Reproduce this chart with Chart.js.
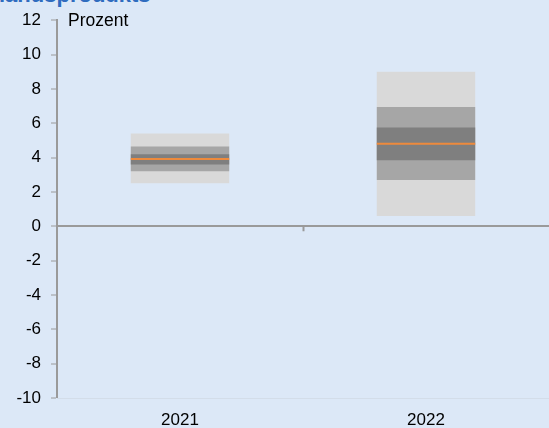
<!DOCTYPE html>
<html>
<head>
<meta charset="utf-8">
<script src="https://cdn.jsdelivr.net/npm/chart.js@4"></script>
<style>
  html, body { margin: 0; padding: 0; background: #dce8f7; overflow: hidden; }
  #wrap { position: relative; width: 549px; height: 428px; }
  #head {
    position: absolute; left: -1px; top: -18px;
    font: bold 22px "Liberation Sans", Arial, sans-serif; color: #2f6cbf;
  }
  canvas { position: absolute; left: 0; top: 0; }
</style>
</head>
<body>
<div id="wrap">
  <div id="head">landsprodukts</div>
  <canvas id="fan" width="549" height="428"></canvas>
</div>
<script>
// Prognosebänder je Jahr: äußeres, mittleres, inneres Band und Median
const years = ['2021', '2022'];
const outerBand = [[2.5, 5.4], [0.6, 9.0]];
const middleBand = [[3.2, 4.65], [2.7, 6.95]];
const innerBand = [[3.6, 4.2], [3.85, 5.75]];
const median = [3.92, 4.8];
const yTicks = [12, 10, 8, 6, 4, 2, 0, -2, -4, -6, -8, -10];

const FONT = 'Liberation Sans, Arial, sans-serif';
const AXIS = '#9a9a9a';

// Medianlinie und Kategorie-Strich auf der Nulllinie
const overlay = {
    id: 'overlay',
    afterDatasetsDraw(chart) {
        const { ctx, scales: { x, y } } = chart;
        const bars = chart.getDatasetMeta(0).data;
        ctx.save();
        ctx.strokeStyle = '#ee8a3c';
        ctx.lineWidth = 2;
        bars.forEach((bar, i) => {
            const py = y.getPixelForValue(median[i]);
            ctx.beginPath();
            ctx.moveTo(bar.x - bar.width / 2, py);
            ctx.lineTo(bar.x + bar.width / 2, py);
            ctx.stroke();
        });
        const y0 = y.getPixelForValue(0);
        const mid = x.getPixelForValue(0.5);
        ctx.strokeStyle = AXIS;
        ctx.lineWidth = 2;
        ctx.beginPath();
        ctx.moveTo(Math.round(mid) + 0.5, y0);
        ctx.lineTo(Math.round(mid) + 0.5, y0 + 5);
        ctx.stroke();
        ctx.fillStyle = '#000';
        ctx.font = '17.5px ' + FONT;
        ctx.textBaseline = 'middle';
        ctx.fillText('Prozent', 68, y.getPixelForValue(12) + 1);
        ctx.restore();
    }
};

const band = (data, color) => ({
    data, backgroundColor: color, borderWidth: 0,
    grouped: false, barPercentage: 0.4, categoryPercentage: 1
});

new Chart(document.getElementById('fan'), {
    type: 'bar',
    data: {
        labels: years,
        datasets: [
            Object.assign(band(outerBand, '#d9d9d9'), { order: 3 }),
            Object.assign(band(middleBand, '#a6a6a6'), { order: 2 }),
            Object.assign(band(innerBand, '#7f7f7f'), { order: 1 })
        ]
    },
    options: {
        responsive: false,
        animation: false,
        layout: { padding: { top: 20, right: 0, bottom: 0, left: 0 } },
        plugins: { legend: { display: false }, tooltip: { enabled: false } },
        scales: {
            x: {
                afterFit: s => { s.height = 30; },
                grid: { display: false },
                border: { display: true, color: '#d3dde9', width: 1 },
                ticks: { color: '#000', font: { family: FONT, size: 17 }, padding: 4 }
            },
            y: {
                min: -10, max: 12,
                afterFit: s => { s.width = 57; },
                afterBuildTicks: s => { s.ticks = yTicks.map(v => ({ value: v })); },
                border: { display: true, color: AXIS, width: 2 },
                grid: {
                    drawOnChartArea: true,
                    color: c => (c.tick && c.tick.value === 0 ? AXIS : 'rgba(0,0,0,0)'),
                    lineWidth: c => (c.tick && c.tick.value === 0 ? 2 : 0),
                    tickColor: AXIS, tickWidth: 1, tickLength: 6
                },
                ticks: { color: '#000', font: { family: FONT, size: 17 }, padding: 10 }
            }
        }
    },
    plugins: [overlay]
});
</script>
</body>
</html>
